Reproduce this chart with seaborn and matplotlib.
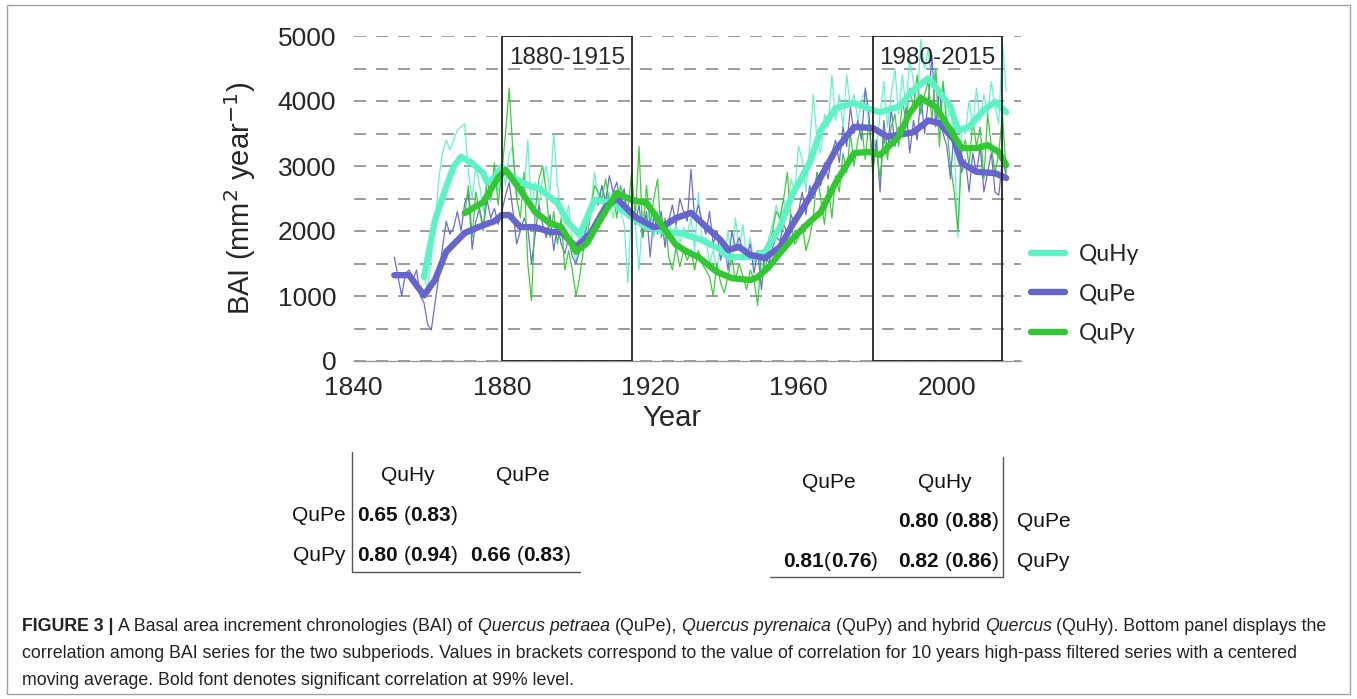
import numpy as np
import pandas as pd
import matplotlib
matplotlib.use("Agg")
import matplotlib.pyplot as plt
import seaborn as sns
from matplotlib import font_manager
from matplotlib.patches import Rectangle
from matplotlib.lines import Line2D

# ---------------- data ----------------
species = ["QuHy", "QuPe", "QuPy"]
colors = {"QuHy": "#5ef2c6", "QuPe": "#6565cc", "QuPy": "#34c734"}

# annual BAI (thin lines)
qupe_start = 1851
qupe_raw = [1600, 1300, 1000, 1350, 1400, 1250, 1400, 1000, 900, 560,
            480, 900, 1300, 1750, 2150, 1950, 2050, 2300, 2000, 2430,
            2580, 1720, 2150, 2350, 2050, 2480, 2200, 2350, 2100, 2300,
            2550, 2750, 2300, 1800, 2000, 2200, 2050, 1500, 1950, 2400,
            2100, 1900, 2250, 1700, 2100, 1800, 1650, 1900, 1600, 1500,
            1700, 1850, 2100, 2300, 2500, 2400, 2700, 2450, 2850, 2600,
            2750, 2450, 2650, 2200, 2350, 2100, 2400, 1900, 2300, 1600,
            2250, 1950, 2300, 1750, 2150, 2400, 2100, 2500, 2300, 2150,
            2950, 2200, 2400, 2150, 1950, 2300, 1800, 2000, 1550, 1800,
            1400, 2000, 1750, 1900, 1700, 1600, 1800, 1350, 1700, 1100,
            1650, 1500, 1750, 1900, 1850, 2100, 1950, 2250, 2100, 2300,
            2600, 2250, 2700, 2500, 2900, 2700, 3050, 2800, 3200, 3400,
            3050, 3600, 3300, 3900, 3500, 3700, 3400, 4200, 3800, 3000,
            3400, 2600, 3700, 3200, 3900, 3300, 3600, 3500, 3900, 3200,
            3700, 3400, 4100, 3500, 4000, 4700, 3600, 4200, 3500, 3300,
            2800, 3600, 3200, 2900, 3100, 2600, 3200, 2900, 3300, 2600,
            2900, 3200, 2600, 2550, 3100, 2850]

quhy_start = 1859
quhy_raw = [1300, 1100, 1600, 2100, 2800, 3200, 3400, 3250, 3400, 3550,
            3600, 3650, 2900, 2500, 3000, 2700, 2300, 2800, 2450, 2900,
            2600, 3000, 2700, 3200, 3300, 2500, 2800, 2600, 3400, 2300,
            2750, 2400, 2800, 3000, 2600, 3500, 2700, 2300, 2100, 2400,
            1800, 1500, 2000, 1900, 2200, 2350, 2900, 2500, 2700, 2400,
            2600, 2200, 2450, 2300, 2100, 1200, 2400, 2100, 1400, 2300,
            2000, 2450, 1900, 2300, 2000, 1850, 2200, 1900, 2100, 1800,
            2050, 1950, 2200, 1700, 2600, 1800, 1900, 1500, 1700, 1400,
            1800, 1600, 2000, 1500, 2200, 1700, 2100, 1600, 1900, 1500,
            1700, 1400, 1650, 1900, 2100, 2400, 2150, 2500, 2250, 2800,
            2600, 3300, 3100, 2600, 3300, 4100, 3400, 3200, 3800, 3600,
            4400, 3700, 4100, 3600, 4400, 3900, 4100, 3700, 4000, 4150,
            3600, 3500, 3200, 3800, 4300, 3600, 4100, 4500, 3800, 4400,
            3900, 4650, 4300, 3900, 4950, 4500, 4800, 4200, 4500, 3800,
            4300, 3700, 3900, 3300, 1900, 3600, 3500, 4000, 3600, 4200,
            3700, 4100, 3800, 4300, 3900, 3650, 4900, 4150]

qupy_start = 1870
qupy_raw = [2250, 2700, 1900, 2600, 2300, 2000, 2800, 2500, 3050, 2400,
            2900, 3500, 4200, 3200, 2500, 2200, 2900, 1500, 930, 2300,
            2800, 3000, 2600, 1900, 2300, 1800, 2200, 1400, 1700, 1400,
            1000, 1300, 1700, 1900, 2300, 2700, 2600, 2500, 2800, 2400,
            2600, 2200, 2700, 2500, 2300, 2900, 2200, 3300, 1900, 2700,
            2100, 2500, 2800, 1900, 2200, 1600, 1400, 1750, 1450, 1700,
            1550, 1700, 1400, 1700, 1500, 1400, 1300, 1000, 1500, 1200,
            1050, 1300, 1600, 1250, 1500, 1300, 1100, 1400, 1250, 850,
            1700, 1400, 1800, 2000, 2300, 2200, 2500, 2900, 2100, 1800,
            1900, 2100, 1700, 1900, 2200, 2900, 2500, 2100, 2700, 2200,
            2850, 2600, 3200, 2900, 3500, 3000, 3400, 3650, 3100, 3700,
            2900, 3300, 2800, 3450, 3100, 3600, 3800, 3300, 4000, 3700,
            4200, 3900, 4400, 3800, 4100, 4300, 3700, 4500, 3300, 4300,
            3600, 3000, 2600, 2000, 3200, 3400, 3000, 3700, 3300, 3600,
            2800, 3800, 3300, 2900, 3200, 3800, 2900]

# smoothed chronologies (thick lines)
qupe_sm_years = [1851, 1855, 1859, 1862, 1865, 1870, 1875, 1878, 1880, 1882,
                 1885, 1889, 1893, 1896, 1900, 1904, 1908, 1911, 1916, 1921,
                 1924, 1927, 1931, 1934, 1939, 1941, 1944, 1947, 1951, 1955,
                 1958, 1963, 1966, 1970, 1975, 1980, 1984, 1987, 1991, 1995,
                 1998, 2002, 2004, 2008, 2013, 2016]
qupe_sm = [1320, 1320, 1010, 1250, 1680, 1970, 2090, 2150, 2245, 2245,
           2060, 2060, 1985, 1985, 1755, 1970, 2370, 2500, 2215, 2060,
           2090, 2200, 2280, 2120, 1860, 1710, 1755, 1630, 1585, 1755,
           2060, 2520, 2830, 3245, 3600, 3585, 3450, 3480, 3520, 3700,
           3660, 3400, 3045, 2910, 2890, 2815]

quhy_sm_years = [1859, 1862, 1865, 1867, 1869, 1872, 1875, 1876, 1878, 1880,
                 1883, 1888, 1890, 1895, 1898, 1901, 1905, 1910, 1915, 1919,
                 1925, 1928, 1934, 1939, 1941, 1947, 1951, 1955, 1958, 1963,
                 1966, 1970, 1975, 1980, 1982, 1987, 1991, 1995, 1997, 2001,
                 2003, 2006, 2010, 2013, 2016]
quhy_sm = [1290, 2170, 2680, 2990, 3140, 3045, 2890, 2750, 2820, 2990,
           2820, 2680, 2660, 2430, 2120, 1940, 2480, 2430, 2215, 2060,
           1985, 1970, 1860, 1710, 1600, 1600, 1680, 2060, 2520, 3045,
           3550, 3890, 3970, 3860, 3830, 3910, 4170, 4350, 4215, 3910,
           3550, 3600, 3860, 3985, 3830]

qupy_sm_years = [1870, 1875, 1879, 1881, 1885, 1889, 1893, 1896, 1899, 1900,
                 1903, 1907, 1911, 1915, 1919, 1921, 1924, 1927, 1930, 1933,
                 1938, 1942, 1947, 1949, 1952, 1955, 1958, 1963, 1966, 1970,
                 1975, 1979, 1982, 1987, 1990, 1993, 1997, 2001, 2004, 2008,
                 2011, 2014, 2016]
qupy_sm = [2275, 2445, 2820, 2940, 2630, 2290, 2120, 2060, 1785, 1680,
           1815, 2215, 2585, 2480, 2430, 2275, 2015, 1785, 1680, 1600,
           1370, 1275, 1245, 1290, 1445, 1660, 1860, 2140, 2290, 2740,
           3200, 3215, 3170, 3450, 3815, 4045, 3910, 3550, 3275, 3275,
           3320, 3215, 3015]

periods = [(1880, 1915), (1980, 2015)]
period_labels = ["1880-1915", "1980-2015"]

# correlation tables
left_cols = ["QuHy", "QuPe"]
left_rows = ["QuPe", "QuPy"]
left_cells = {("QuPe", "QuHy"): ("0.65", "0.83"),
              ("QuPy", "QuHy"): ("0.80", "0.94"),
              ("QuPy", "QuPe"): ("0.66", "0.83")}
right_cols = ["QuPe", "QuHy"]
right_rows = ["QuPe", "QuPy"]
right_cells = {("QuPe", "QuHy"): ("0.80", "0.88"),
               ("QuPy", "QuPe"): ("0.81", "0.76"),
               ("QuPy", "QuHy"): ("0.82", "0.86")}

# ---------------- figure ----------------
sns.set_style("white")
installed = {f.name for f in font_manager.fontManager.ttflist}
SANS = "Liberation Sans"
NARROW = "Liberation Sans Narrow" if "Liberation Sans Narrow" in installed else "Liberation Sans"
plt.rcParams["font.family"] = [SANS, "DejaVu Sans"]

W, H = 1357, 699
fig = plt.figure(figsize=(W / 100, H / 100), dpi=100)

def fx(x):
    return x / W

def fy(y):
    return 1 - y / H

ax = fig.add_axes([fx(353.5), fy(361), fx(1021) - fx(353.5), fy(36) - fy(361)])

raw = pd.concat([
    pd.DataFrame({"year": np.arange(qupe_start, qupe_start + len(qupe_raw)), "bai": qupe_raw, "sp": "QuPe"}),
    pd.DataFrame({"year": np.arange(quhy_start, quhy_start + len(quhy_raw)), "bai": quhy_raw, "sp": "QuHy"}),
    pd.DataFrame({"year": np.arange(qupy_start, qupy_start + len(qupy_raw)), "bai": qupy_raw, "sp": "QuPy"}),
])
smooth = {"QuHy": (quhy_sm_years, quhy_sm), "QuPe": (qupe_sm_years, qupe_sm), "QuPy": (qupy_sm_years, qupy_sm)}

for sp in ["QuHy", "QuPe", "QuPy"]:
    d = raw[raw.sp == sp]
    sns.lineplot(x=d["year"], y=d["bai"], color=colors[sp], lw=0.9, ax=ax, alpha=0.95)
for sp in ["QuHy", "QuPe", "QuPy"]:
    yrs, vals = smooth[sp]
    sns.lineplot(x=yrs, y=vals, color=colors[sp], lw=4.6, ax=ax,
                 solid_capstyle="round", solid_joinstyle="round")

ax.set_xlim(1840, 2020)
ax.set_ylim(0, 5000)
ax.set_yticks(np.arange(0, 5001, 1000))
ax.set_yticks(np.arange(500, 5000, 1000), minor=True)
ax.set_xticks(np.arange(1840, 2001, 40))
ax.set_xticks(np.arange(1860, 2020, 40), minor=True)
ax.grid(axis="y", which="both", linestyle=(0, (7.2, 6)), color="#8c8c8c", lw=1.2)
ax.grid(axis="x", visible=False)
ax.set_axisbelow(True)
for s in ["top", "right", "left"]:
    ax.spines[s].set_visible(False)
ax.spines["bottom"].set_color("#999999")
ax.spines["bottom"].set_linewidth(1.0)
ax.tick_params(axis="x", which="both", direction="in", length=10, width=1.2, color="#222222",
               labelsize=19, pad=11)
ax.tick_params(axis="y", which="both", length=0, labelsize=19, pad=12.5)
ax.set_xlabel("Year", fontsize=21)
ax.xaxis.set_label_coords((672 - 353.5) / (1021 - 353.5), (361 - 418) / 325, transform=ax.transAxes)
ax.xaxis.label.set_va("center")
ax.set_ylabel("BAI (mm$^2$ year$^{-1}$)", fontsize=21, labelpad=14)

for (a, b), lab in zip(periods, period_labels):
    ax.add_patch(Rectangle((a, 0), b - a, 5000, fill=False, ec="#222222", lw=1.3, zorder=5))
    ax.text((a + b) / 2, 4660, lab, ha="center", va="center", fontsize=17.5, zorder=6)

handles = [Line2D([], [], color=colors[s], lw=4.6, solid_capstyle="round") for s in species]
ax.legend(handles, species, loc="center left", bbox_to_anchor=(fx(1010), fy(294)),
          bbox_transform=fig.transFigure, frameon=False,
          handlelength=1.5, handletextpad=0.6, labelspacing=0.82,
          prop={"family": ["Lato", "DejaVu Sans"], "size": 16.5})

# ---------------- rich text helper ----------------
fig.canvas.draw()
renderer = fig.canvas.get_renderer()

def text_w(s, size, family, weight="normal", style="normal"):
    t = fig.text(0, 0, s, fontsize=size, family=family, weight=weight, style=style)
    w = t.get_window_extent(renderer).width
    t.remove()
    return w

def rich(x, y, pieces, size, family, ha="left", color="#111111"):
    # pieces: list of (text, weight, style)
    items = []
    for s, wgt, sty in pieces:
        sp_w = text_w("x x", size, family, wgt, sty) - text_w("xx", size, family, wgt, sty)
        lead = len(s) - len(s.lstrip(" "))
        trail = len(s) - len(s.rstrip(" "))
        core = s.strip(" ")
        cw = text_w(core, size, family, wgt, sty) if core else 0
        items.append((core, wgt, sty, lead * sp_w, cw, trail * sp_w))
    total = sum(a + b + c for _, _, _, a, b, c in items)
    cx = x - total if ha == "right" else x
    for core, wgt, sty, lw_, cw, tw in items:
        cx += lw_
        if core:
            fig.text(fx(cx), fy(y), core, fontsize=size, family=family, weight=wgt,
                     style=sty, ha="left", va="baseline", color=color)
        cx += cw + tw

TF = 15
def cell(x, y, vals, ha="left", compact=False):
    a, b = vals
    sep = "(" if compact else " ("
    rich(x, y, [(a, "bold", "normal"), (sep, "normal", "normal"), (b, "bold", "normal"),
                (")", "normal", "normal")], TF, SANS, ha=ha)

# left table
fig.add_artist(Line2D([fx(352), fx(352)], [fy(452), fy(572)], color="#555555", lw=1.0))
fig.add_artist(Line2D([fx(352), fx(580)], [fy(572), fy(572)], color="#555555", lw=1.0))
for c, xc in zip(left_cols, [408, 523]):
    fig.text(fx(xc), fy(481), c, fontsize=TF, ha="center", va="baseline", color="#111111")
for r, yr in zip(left_rows, [521, 561]):
    fig.text(fx(346), fy(yr), r, fontsize=TF, ha="right", va="baseline", color="#111111")
cell(357, 521, left_cells[("QuPe", "QuHy")])
cell(357, 561, left_cells[("QuPy", "QuHy")])
cell(470, 561, left_cells[("QuPy", "QuPe")])

# right table
fig.add_artist(Line2D([fx(1003), fx(1003)], [fy(457), fy(577)], color="#555555", lw=1.0))
fig.add_artist(Line2D([fx(770), fx(1003)], [fy(577), fy(577)], color="#555555", lw=1.0))
for c, xc in zip(right_cols, [829, 945]):
    fig.text(fx(xc), fy(488), c, fontsize=TF, ha="center", va="baseline", color="#111111")
for r, yr in zip(right_rows, [527, 567]):
    fig.text(fx(1017), fy(yr), r, fontsize=TF, ha="left", va="baseline", color="#111111")
cell(999, 527, right_cells[("QuPe", "QuHy")], ha="right")
cell(878, 567, right_cells[("QuPy", "QuPe")], ha="right", compact=True)
cell(999, 567, right_cells[("QuPy", "QuHy")], ha="right")

# caption
CS = 12.75
cap1 = [("FIGURE 3 |", "bold", "normal"), (" A Basal area increment chronologies (BAI) of ", "normal", "normal"),
        ("Quercus petraea", "normal", "italic"), (" (QuPe), ", "normal", "normal"),
        ("Quercus pyrenaica", "normal", "italic"), (" (QuPy) and hybrid ", "normal", "normal"),
        ("Quercus", "normal", "italic"), (" (QuHy). Bottom panel displays the", "normal", "normal")]
cap2 = [("correlation among BAI series for the two subperiods. Values in brackets correspond to the value of "
         "correlation for 10 years high-pass filtered series with a centered", "normal", "normal")]
cap3 = [("moving average. Bold font denotes significant correlation at 99% level.", "normal", "normal")]
rich(22, 631, cap1, CS, NARROW, color="#222222")
rich(22, 658, cap2, CS, NARROW, color="#222222")
rich(22, 685, cap3, CS, NARROW, color="#222222")

# outer frame
fig.add_artist(Rectangle((fx(7), fy(694)), fx(1350) - fx(7), fy(5) - fy(694), fill=False,
                         ec="#a0a0a0", lw=1.0, transform=fig.transFigure))

fig.savefig("out.png", dpi=100)
